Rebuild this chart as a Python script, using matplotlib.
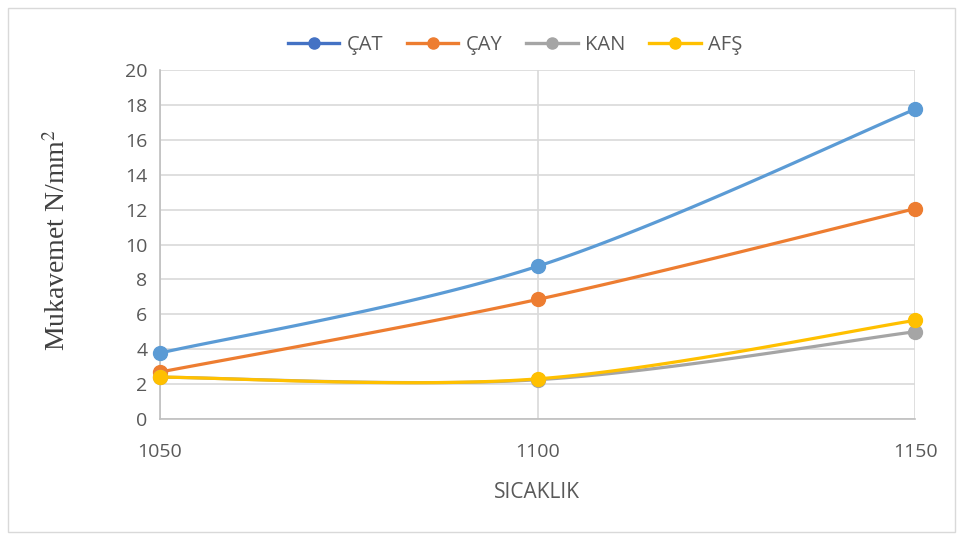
import numpy as np
import matplotlib.pyplot as plt
from matplotlib.lines import Line2D
from matplotlib.patches import Rectangle

sicaklik = [1050, 1100, 1150]
cat = [3.78, 8.75, 17.75]
cay = [2.69, 6.85, 12.05]
kan = [2.40, 2.25, 5.00]
afs = [2.40, 2.30, 5.65]

series = [("ÇAT", cat, "#5B9BD5", "#4472C4"),
          ("ÇAY", cay, "#ED7D31", "#ED7D31"),
          ("KAN", kan, "#A5A5A5", "#A5A5A5"),
          ("AFŞ", afs, "#FFC000", "#FFC000")]


def smooth(xs, ys, n=60):
    # spreadsheet-style smoothed line: cubic bezier through the points
    p = np.column_stack([xs, ys]).astype(float)
    out = []
    for i in range(len(p) - 1):
        prev = p[i - 1] if i > 0 else p[i]
        nxt = p[i + 2] if i + 2 < len(p) else p[i + 1]
        c1 = p[i] + (p[i + 1] - prev) / 6
        c2 = p[i + 1] - (nxt - p[i]) / 6
        t = np.linspace(0, 1, n)[:, None]
        seg = ((1 - t) ** 3 * p[i] + 3 * (1 - t) ** 2 * t * c1
               + 3 * (1 - t) * t ** 2 * c2 + t ** 3 * p[i + 1])
        out.append(seg if i == 0 else seg[1:])
    out = np.vstack(out)
    return out[:, 0], out[:, 1]


fig = plt.figure(figsize=(9.63, 5.4), dpi=100)
fig.patches.append(Rectangle((8 / 963, 8 / 540), 947 / 963, 524 / 540,
                             transform=fig.transFigure, fill=False,
                             edgecolor="#d9d9d9", linewidth=1))
ax = fig.add_axes([160 / 963, 1 - 419 / 540, 755 / 963, 349 / 540])

txt = "#595959"
grid = "#d9d9d9"

for name, vals, col, _ in series:
    sx, sy = smooth(sicaklik, vals)
    ax.plot(sx, sy, color=col, lw=2.3, solid_capstyle="round", zorder=3,
            clip_on=False)
    ax.plot(sicaklik, vals, ls="none", marker="o", ms=10, color=col,
            zorder=4, clip_on=False)

ax.set_xlim(1050, 1150)
ax.set_ylim(0, 20)
ax.set_xticks(sicaklik)
ax.set_yticks(range(0, 21, 2))
ax.grid(True, color=grid, lw=1.2, zorder=0)
ax.set_axisbelow(True)
for s in ["top", "right"]:
    ax.spines[s].set_visible(False)
for s in ["left", "bottom"]:
    ax.spines[s].set_color("#bfbfbf")
    ax.spines[s].set_linewidth(1.2)
ax.tick_params(length=0, colors=txt, labelsize=14, pad=9)
ax.tick_params(axis="x", pad=17)
for lab in ax.get_xticklabels() + ax.get_yticklabels():
    lab.set_family("Open Sans")

fig.text(58 / 963, 1 - 240 / 540, "Mukavemet N/mm$^2$", rotation=90,
         ha="center", va="center", fontsize=20, color="#404040",
         family="Liberation Serif", math_fontfamily="stix")
fig.text(537 / 963, 1 - 492 / 540, "SICAKLIK", ha="center", va="center",
         fontsize=15, color=txt, family="Open Sans")

handles = [Line2D([], [], color=lc, lw=2.4, marker="o", ms=8)
           for _, _, _, lc in series]
leg = fig.legend(handles, [s[0] for s in series], loc="center",
                 bbox_to_anchor=(515 / 963, 1 - 45 / 540), ncol=4,
                 frameon=False, handlelength=2.55, columnspacing=1.2,
                 handletextpad=0.35,
                 prop={"family": "Open Sans", "size": 14.5})
for t in leg.get_texts():
    t.set_color(txt)

fig.savefig("out.png", dpi=100)
